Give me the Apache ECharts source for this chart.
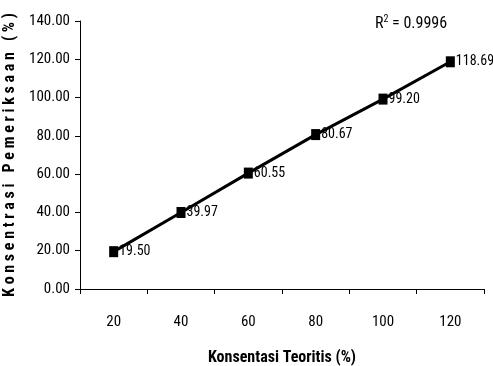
<!DOCTYPE html>
<html><head><meta charset="utf-8">
<script src="https://cdn.jsdelivr.net/npm/echarts@6/dist/echarts.min.js"></script>
<style>html,body{margin:0;padding:0;background:#fff}#c{width:493px;height:366px}</style>
</head><body><div id="c"></div>
<script>
const categories = ['20','40','60','80','100','120'];
const values = [19.50, 39.97, 60.55, 80.67, 99.20, 118.69];
const yTicks = [0, 20, 40, 60, 80, 100, 120, 140];
const rSquared = '0.9996';
const xTitle = 'Konsentasi Teoritis (%)';
const yTitle = 'Konsentrasi Pemeriksaan (%)';

const FONT = '"Roboto Condensed", "Liberation Sans", Arial, sans-serif';
const spaced = yTitle.split(' ').map(w => w.split('').join(' ')).join('   ');
const chart = echarts.init(document.getElementById('c'), null, {renderer:'canvas'});
chart.setOption({
  animation:false,
  grid:{left:80, right:9, top:21, bottom:77, containLabel:false, outerBoundsMode:'none'},
  xAxis:{
    type:'category', data:categories, boundaryGap:true,
    axisLine:{lineStyle:{color:'#000', width:1}},
    axisTick:{show:true, alignWithLabel:false, length:5, lineStyle:{color:'#000'}},
    axisLabel:{color:'#000', fontFamily:FONT, fontSize:15, margin:26},
    name:xTitle, nameLocation:'middle', nameGap:61,
    nameTextStyle:{color:'#000', fontFamily:FONT, fontSize:16, fontWeight:'bold'}
  },
  yAxis:{
    type:'value', min:yTicks[0], max:yTicks[yTicks.length-1], interval:20,
    axisLine:{show:true, lineStyle:{color:'#000', width:1}},
    axisTick:{show:true, length:5, lineStyle:{color:'#000'}},
    splitLine:{show:false},
    axisLabel:{color:'#000', fontFamily:FONT, fontSize:15, margin:10, formatter:v=>v.toFixed(2)},
    name:spaced, nameLocation:'middle', nameGap:56, nameRotate:90,
    nameTextStyle:{color:'#000', fontFamily:FONT, fontSize:16, fontWeight:'bold'}
  },
  graphic:[{
    type:'text', left:375, top:14,
    style:{
      text:'{r|R}{s|2}{r| = ' + rSquared + '}',
      rich:{
        r:{fontFamily:FONT, fontSize:16, fill:'#000', verticalAlign:'bottom'},
        s:{fontFamily:FONT, fontSize:10, fill:'#000', verticalAlign:'top', padding:[0,0,8,0]}
      }
    }
  }],
  series:[{
    type:'line', data:values,
    lineStyle:{color:'#000', width:3},
    itemStyle:{color:'#000'},
    symbol:'rect', symbolSize:[9,11],
    label:{show:true, position:'right', distance:1, color:'#000', fontFamily:FONT, fontSize:14,
      formatter:p=>p.value.toFixed(2)}
  }]
});
</script></body></html>
